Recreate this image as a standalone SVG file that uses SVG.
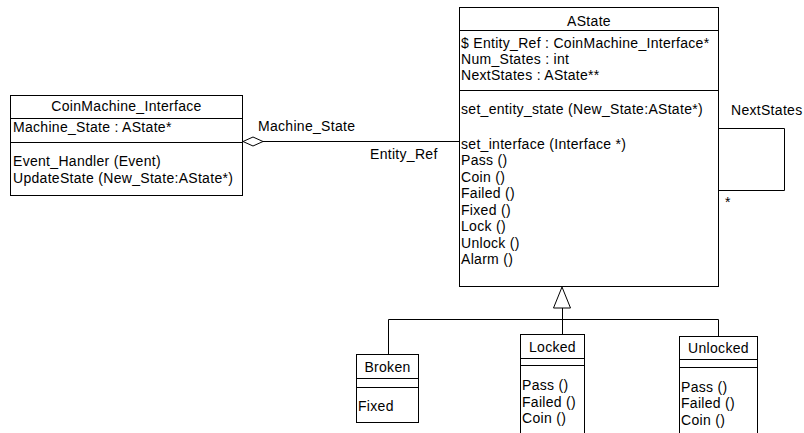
<svg xmlns="http://www.w3.org/2000/svg" width="804" height="433" viewBox="0 0 804 433">
  <style>
    text { font-family: "Liberation Sans", Arial, sans-serif; font-size: 14px; letter-spacing: 0.3px; fill: #000; }
    .c { text-anchor: middle; }
    .box { fill: #fff; stroke: #000; stroke-width: 1; }
    .sep { stroke: #000; stroke-width: 1; fill: none; }
    .link { stroke: #000; stroke-width: 1; fill: none; }
  </style>
  <rect width="804" height="433" fill="#fff"/>

  <g id="connectors">
    <!-- association CoinMachine_Interface <>— AState -->
    <path class="link" d="M263 141.5 H459"/>
    <polygon class="link" fill="#fff" points="243,141.5 253,137 263,141.5 253,146"/>
    <text x="258" y="131">Machine_State</text>
    <text x="370" y="159">Entity_Ref</text>
    <!-- self association NextStates -->
    <path class="link" d="M718 128.5 H784.5 V190.5 H718"/>
    <text x="731" y="115">NextStates</text>
    <text x="725" y="207">*</text>
    <!-- generalization -->
    <polygon class="link" fill="#fff" points="562,287 553.5,308 570.5,308"/>
    <path class="link" d="M562.5 308 V334"/>
    <path class="link" d="M388.5 354 V319.5 H718.5 V336"/>
  </g>

  <g id="CoinMachine_Interface">
    <rect class="box" x="10.5" y="95.5" width="232" height="100"/>
    <path class="sep" d="M10.5 118.5 H242.5 M10.5 142.5 H242.5"/>
    <text class="c" x="126.5" y="111">CoinMachine_Interface</text>
    <text x="13" y="132">Machine_State : AState*</text>
    <text x="13" y="166">Event_Handler (Event)</text>
    <text x="13" y="183">UpdateState (New_State:AState*)</text>
  </g>

  <g id="AState">
    <rect class="box" x="459.5" y="7.5" width="259" height="279"/>
    <path class="sep" d="M459.5 30.5 H718.5 M459.5 90.5 H718.5"/>
    <text class="c" x="589" y="26">AState</text>
    <text x="461" y="48">$ Entity_Ref : CoinMachine_Interface*</text>
    <text x="461" y="64">Num_States : int</text>
    <text x="461" y="80">NextStates : AState**</text>
    <text x="461" y="114">set_entity_state (New_State:AState*)</text>
    <text x="461" y="149">set_interface (Interface *)</text>
    <text x="461" y="165">Pass ()</text>
    <text x="461" y="181.5">Coin ()</text>
    <text x="461" y="198">Failed ()</text>
    <text x="461" y="214.5">Fixed ()</text>
    <text x="461" y="231">Lock ()</text>
    <text x="461" y="247.5">Unlock ()</text>
    <text x="461" y="264">Alarm ()</text>
  </g>

  <g id="Broken">
    <rect class="box" x="356.5" y="354.5" width="62" height="68"/>
    <path class="sep" d="M356.5 378.5 H418.5 M356.5 387.5 H418.5"/>
    <text class="c" x="387.5" y="372">Broken</text>
    <text x="358" y="411">Fixed</text>
  </g>

  <g id="Locked">
    <rect class="box" x="520.5" y="334.5" width="64" height="110"/>
    <path class="sep" d="M520.5 358.5 H584.5 M520.5 365.5 H584.5"/>
    <text class="c" x="552.5" y="352">Locked</text>
    <text x="522" y="390">Pass ()</text>
    <text x="522" y="407">Failed ()</text>
    <text x="522" y="423">Coin ()</text>
  </g>

  <g id="Unlocked">
    <rect class="box" x="679.5" y="336.5" width="78" height="110"/>
    <path class="sep" d="M679.5 359.5 H757.5 M679.5 367.5 H757.5"/>
    <text class="c" x="718.5" y="353">Unlocked</text>
    <text x="681" y="392">Pass ()</text>
    <text x="681" y="408">Failed ()</text>
    <text x="681" y="425">Coin ()</text>
  </g>
</svg>
